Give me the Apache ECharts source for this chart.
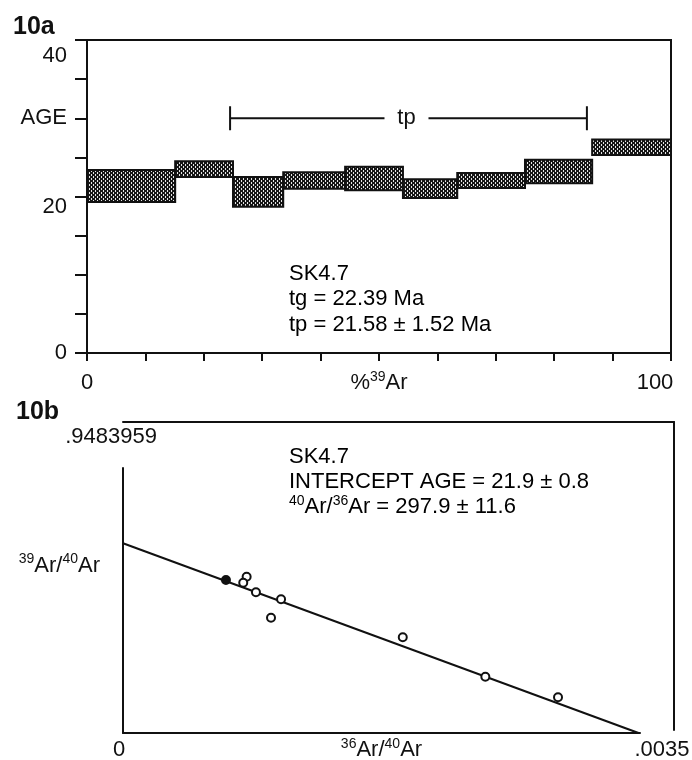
<!DOCTYPE html>
<html>
<head>
<meta charset="utf-8">
<script src="https://cdn.jsdelivr.net/npm/echarts@6/dist/echarts.min.js"></script>
<style>
  html, body { margin: 0; padding: 0; background: #fff; }
  #chart { width: 692px; height: 760px; }
</style>
</head>
<body>
<div id="chart"></div>
<script>
// ---- 10a: step-heating age spectrum (cumulative %39Ar, age band in Ma) ----
const stepFrom = [0, 15.1, 25.0, 33.6, 44.2, 54.1, 63.4, 75.0, 86.5];
const stepTo   = [15.1, 25.0, 33.6, 44.2, 54.1, 63.4, 75.0, 86.5, 100];
const ageLow   = [19.3, 22.5, 18.7, 21.0, 20.8, 19.8, 21.1, 21.7, 25.3];
const ageHigh  = [23.4, 24.5, 22.5, 23.1, 23.8, 22.2, 23.0, 24.7, 27.3];
// plateau bracket: span in %39Ar and the age level it is drawn at
const plateauSpan = [24.5, 85.6];
const plateauLevel = 30;

const topXTickValues = [0, 50, 100];
const topXTickTexts  = ['0', '%[39]Ar', '100'];
const topYTickValues = [0, 20, 30, 40];
const topYTickTexts  = ['0', '20', 'AGE', '40'];

// ---- 10b: inverse isochron ----
const ratio36 = [0.000697, 0.000837, 0.000814, 0.000900, 0.001070, 0.001002, 0.001894, 0.002453, 0.002945];
const ratio39 = [0.4666, 0.4766, 0.4583, 0.4291, 0.4077, 0.3516, 0.2918, 0.1717, 0.1089];
const pointFilled = [true, false, false, false, false, false, false, false, false];
const fitX = [0, 0.00349];
const fitY = [0.5785, 0];

const isoXMax = 0.0035;
const isoYMax = 0.9483959;
const botXTickValues = [0, 0.0035];
const botXTickTexts  = ['0', '.0035'];
const botYTickText   = '.9483959';
const botXName = '[36]Ar/[40]Ar';
const botYName = '[39]Ar/[40]Ar';

const topNotes = ['SK4.7', 'tg = 22.39 Ma', 'tp = 21.58 \u00b1 1.52 Ma'];
const botNotes = ['SK4.7', 'INTERCEPT AGE = 21.9 \u00b1 0.8', '[40]Ar/[36]Ar = 297.9 \u00b1 11.6'];

const FONT = "'Liberation Sans', Arial, Helvetica, sans-serif";
const INK = '#111';

// turn "[nn]" markers into superscript rich-text tokens
function richify(text, base, sup) {
  return text.split(/(\[[^\]]+\])/).filter(s => s.length).map(s =>
    s[0] === '[' ? '{' + sup + '|' + s.slice(1, -1) + '}' : '{' + base + '|' + s + '}'
  ).join('');
}

function baseStyle(extra) {
  return Object.assign({ fontFamily: FONT, fontSize: 22, color: INK, lineHeight: 26 }, extra || {});
}
function supStyle(extra) {
  return Object.assign({ fontFamily: FONT, fontSize: 14, color: INK, lineHeight: 14, verticalAlign: 'top' }, extra || {});
}

// stipple fill used inside the age boxes: dark ground with short light vertical dashes
function makeStipple() {
  const c = document.createElement('canvas');
  c.width = 4; c.height = 4;
  const g = c.getContext('2d');
  g.fillStyle = '#161616';
  g.fillRect(0, 0, 4, 4);
  g.fillStyle = '#e6e6e6';
  [[1, 0], [1, 1], [3, 2], [3, 3]].forEach(p => g.fillRect(p[0], p[1], 1, 1));
  return c;
}
const stipple = { image: makeStipple(), repeat: 'repeat' };

const stepData = stepFrom.map((f, i) => [f, stepTo[i], ageLow[i], ageHigh[i]]);
const isoData = ratio36.map((x, i) => ({
  value: [x, ratio39[i]],
  itemStyle: pointFilled[i] ? { color: INK } : undefined
}));
const fitData = fitX.map((x, i) => [x, fitY[i]]);

const chart = echarts.init(document.getElementById('chart'), null, { renderer: 'canvas' });

const axisLine = { show: true, onZero: false, lineStyle: { color: INK, width: 2 } };

chart.setOption({
  animation: false,
  backgroundColor: '#fff',
  grid: [
    { left: 87, right: 21, top: 40, bottom: 407, show: true, borderColor: INK, borderWidth: 2, backgroundColor: 'transparent', containLabel: false, outerBoundsMode: 'none' },
    { left: 123, right: 52, top: 422, bottom: 27, containLabel: false, outerBoundsMode: 'none' },
    { left: 123, right: 18, top: 422, bottom: 30, containLabel: false, outerBoundsMode: 'none' },
    { left: 123, width: 20, top: 468, bottom: 27, containLabel: false, outerBoundsMode: 'none' }
  ],
  xAxis: [
    {
      gridIndex: 0, type: 'value', min: 0, max: 100, interval: 10,
      axisLine: axisLine,
      axisTick: { show: true, inside: false, length: 8, lineStyle: { color: INK, width: 2 } },
      splitLine: { show: false },
      axisLabel: {
        margin: 17,
        formatter: v => {
          const i = topXTickValues.indexOf(v);
          if (i < 0) return '';
          return richify(topXTickTexts[i], i === 2 ? 'r' : 'b', 's');
        },
        rich: {
          b: baseStyle(),
          r: baseStyle({ padding: [0, 32, 0, 0] }),
          s: supStyle()
        }
      }
    },
    {
      gridIndex: 1, type: 'value', min: 0, max: isoXMax, interval: isoXMax,
      axisLine: axisLine,
      axisTick: { show: false },
      splitLine: { show: false },
      axisLabel: {
        margin: 4,
        formatter: v => {
          const i = botXTickValues.findIndex(t => Math.abs(t - v) < 1e-9);
          if (i < 0) return '';
          return '{' + (i === 0 ? 'l' : 'r') + '|' + botXTickTexts[i] + '}';
        },
        rich: {
          l: baseStyle({ padding: [0, 8, 0, 0] }),
          r: baseStyle({ padding: [0, 0, 0, 44] })
        }
      },
      name: richify(botXName, 'b', 's'),
      nameLocation: 'middle',
      nameGap: 4,
      nameMoveOverlap: false,
      nameTextStyle: { rich: { b: baseStyle(), s: supStyle() } }
    },
    {
      gridIndex: 2, type: 'value', position: 'top', min: 0, max: 1,
      axisLine: axisLine, axisTick: { show: false }, axisLabel: { show: false }, splitLine: { show: false }
    },
    { gridIndex: 3, type: 'value', min: 0, max: 1, show: false }
  ],
  yAxis: [
    {
      gridIndex: 0, type: 'value', min: 0, max: 40, interval: 5,
      axisLine: axisLine,
      axisTick: { show: true, inside: false, length: 12, lineStyle: { color: INK, width: 2 } },
      splitLine: { show: false },
      axisLabel: {
        margin: 20,
        formatter: v => {
          const i = topYTickValues.indexOf(v);
          if (i < 0) return '';
          return '{y' + i + '|' + topYTickTexts[i] + '}';
        },
        rich: {
          y0: baseStyle(),
          y1: baseStyle({ padding: [20, 0, 0, 0] }),
          y2: baseStyle(),
          y3: baseStyle({ padding: [32, 0, 0, 0] })
        }
      }
    },
    {
      gridIndex: 1, type: 'value', min: 0, max: isoYMax, interval: isoYMax,
      axisLine: { show: false },
      axisTick: { show: false },
      splitLine: { show: false },
      axisLabel: {
        margin: -34,
        formatter: v => Math.abs(v - isoYMax) < 1e-9 ? '{m|' + botYTickText + '}' : '',
        rich: { m: baseStyle({ padding: [30, 0, 0, 0] }) }
      },
      name: richify(botYName, 'b', 's'),
      nameLocation: 'middle',
      nameRotate: 0,
      nameGap: 23,
      nameMoveOverlap: false,
      nameTextStyle: { padding: [0, 0, 24, 0], rich: { b: baseStyle(), s: supStyle() } }
    },
    {
      gridIndex: 2, type: 'value', position: 'right', min: 0, max: 1,
      axisLine: axisLine, axisTick: { show: false }, axisLabel: { show: false }, splitLine: { show: false }
    },
    {
      gridIndex: 3, type: 'value', position: 'left', min: 0, max: 1,
      axisLine: axisLine, axisTick: { show: false }, axisLabel: { show: false }, splitLine: { show: false }
    }
  ],
  series: [
    {
      type: 'custom',
      xAxisIndex: 0, yAxisIndex: 0,
      data: stepData,
      encode: { x: [0, 1], y: [2, 3] },
      renderItem: (params, api) => {
        const p0 = api.coord([api.value(0), api.value(3)]);
        const p1 = api.coord([api.value(1), api.value(2)]);
        return {
          type: 'rect',
          shape: { x: p0[0], y: p0[1], width: p1[0] - p0[0], height: p1[1] - p0[1] },
          style: { fill: stipple, stroke: INK, lineWidth: 2 }
        };
      }
    },
    {
      type: 'custom',
      xAxisIndex: 0, yAxisIndex: 0,
      data: [[plateauSpan[0], plateauSpan[1], plateauLevel]],
      encode: { x: [0, 1], y: 2 },
      renderItem: (params, api) => {
        const a = api.coord([api.value(0), api.value(2)]);
        const b = api.coord([api.value(1), api.value(2)]);
        const mid = (a[0] + b[0]) / 2 - 2, gap = 22, cap = 12, y = a[1];
        const ls = { stroke: INK, lineWidth: 2 };
        return {
          type: 'group',
          children: [
            { type: 'line', shape: { x1: a[0], y1: y, x2: mid - gap, y2: y }, style: ls },
            { type: 'line', shape: { x1: mid + gap, y1: y, x2: b[0], y2: y }, style: ls },
            { type: 'line', shape: { x1: a[0], y1: y - cap, x2: a[0], y2: y + cap }, style: ls },
            { type: 'line', shape: { x1: b[0], y1: y - cap, x2: b[0], y2: y + cap }, style: ls },
            { type: 'text', x: mid, y: y, style: { text: 'tp', fontFamily: FONT, fontSize: 22, fill: INK, align: 'center', verticalAlign: 'middle' } }
          ]
        };
      }
    },
    {
      type: 'line',
      xAxisIndex: 1, yAxisIndex: 1,
      data: fitData,
      showSymbol: false,
      symbol: 'none',
      lineStyle: { color: INK, width: 2 },
      z: 2
    },
    {
      type: 'scatter',
      xAxisIndex: 1, yAxisIndex: 1,
      data: isoData,
      symbol: 'circle',
      symbolSize: 8,
      itemStyle: { color: '#fff', borderColor: INK, borderWidth: 2, opacity: 1 },
      z: 3
    }
  ],
  graphic: [
    { type: 'text', x: 13, y: 27, style: { text: '10a', font: 'bold 25px ' + FONT, fill: INK, verticalAlign: 'middle' } },
    { type: 'text', x: 16, y: 412, style: { text: '10b', font: 'bold 25px ' + FONT, fill: INK, verticalAlign: 'middle' } },
    {
      type: 'text', x: 289, y: 299,
      style: {
        text: topNotes.map(t => '{t|' + t + '}').join('\n'),
        verticalAlign: 'middle',
        rich: { t: baseStyle({ lineHeight: 25.5 }) }
      }
    },
    {
      type: 'text', x: 289, y: 482,
      style: {
        text: botNotes.map(t => richify(t, 't', 's')).join('\n'),
        verticalAlign: 'middle',
        rich: { t: baseStyle({ lineHeight: 25 }), s: supStyle() }
      }
    }
  ]
});
</script>
</body>
</html>
